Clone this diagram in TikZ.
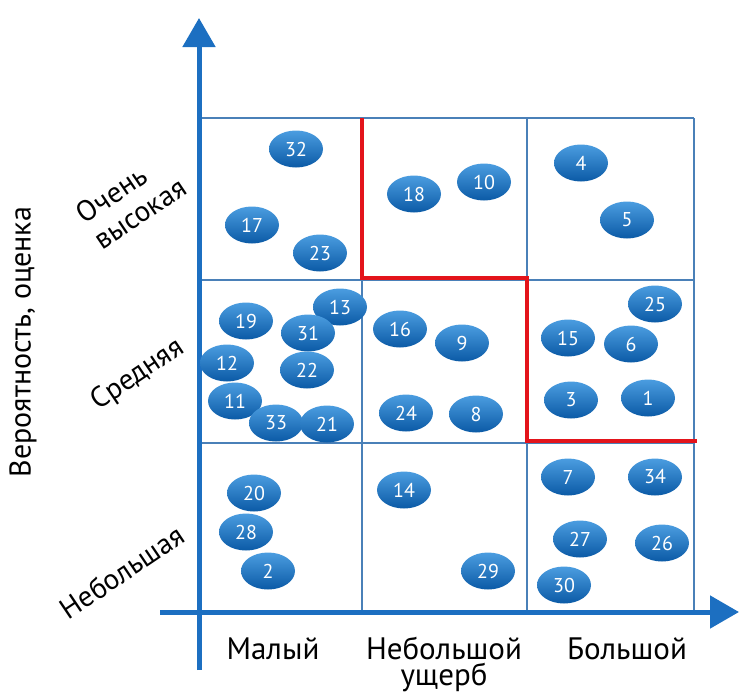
\documentclass[tikz,border=0pt]{standalone}
\usepackage{fontspec}
\setmainfont{PT Sans}
\usetikzlibrary{shapes.geometric,arrows.meta}
\definecolor{axisblue}{HTML}{1C6FC1}
\definecolor{gridblue}{HTML}{4A80B8}
\definecolor{riskred}{HTML}{E3141B}
\definecolor{elltop}{HTML}{4B9DE0}
\definecolor{ellbot}{HTML}{0B5AA6}
\begin{document}
\begin{tikzpicture}[x=1pt,y=-1pt,
  risk/.style={ellipse, minimum width=54pt, minimum height=37pt, inner sep=0pt,
    top color=elltop, bottom color=ellbot, text=white, font=\fontsize{20}{20}\selectfont},
  axisline/.style={draw=axisblue, line width=5pt},
  gridline/.style={draw=gridblue, line width=1.6pt},
  redline/.style={draw=riskred, line width=4.5pt},
  lbl/.style={font=\fontsize{31}{32}\selectfont, text=black, inner sep=0pt},
  rlbl/.style={font=\fontsize{29}{32}\selectfont, text=black, inner sep=0pt, align=left, rotate=34}]
\useasboundingbox (0,0) rectangle (739,697);
% grid
\draw[gridline] (199,118) -- (694,118);
\draw[gridline] (199,280) -- (694,280);
\draw[gridline] (199,443) -- (694,443);
\draw[gridline] (362,118) -- (362,612);
\draw[gridline] (527,118) -- (527,612);
\draw[gridline] (694,118) -- (694,612);
% red boundary
\draw[redline] (362,118) -- (362,278) -- (527,278) -- (527,441) -- (697,441);
% axes
\coordinate (yb) at (199,670);
\coordinate (yt) at (199,18);
\coordinate (xl) at (160,612);
\coordinate (xr) at (739,612);
\draw[axisline, -{Triangle[width=32pt,length=29pt]}] (yb) -- (yt);
\draw[axisline, -{Triangle[width=32pt,length=29pt]}] (xl) -- (xr);
% risks
\node[risk] (r32) at (296,149) {32};
\node[risk] (r17) at (252,225) {17};
\node[risk] (r23) at (320,253) {23};
\node[risk] (r18) at (414,194) {18};
\node[risk] (r10) at (484,182) {10};
\node[risk] (r4) at (581,163) {4};
\node[risk] (r5) at (627,220) {5};
\node[risk] (r13) at (340,307) {13};
\node[risk] (r19) at (246,321) {19};
\node[risk] (r31) at (308,333) {31};
\node[risk] (r12) at (227,363) {12};
\node[risk] (r22) at (307,370) {22};
\node[risk] (r11) at (235,401) {11};
\node[risk] (r33) at (276,423) {33};
\node[risk] (r21) at (327,424) {21};
\node[risk] (r16) at (400,329) {16};
\node[risk] (r9) at (462,343) {9};
\node[risk] (r24) at (406,413) {24};
\node[risk] (r8) at (476,414) {8};
\node[risk] (r25) at (655,304) {25};
\node[risk] (r15) at (568,338) {15};
\node[risk] (r6) at (631,344) {6};
\node[risk] (r3) at (571,400) {3};
\node[risk] (r1) at (648,398) {1};
\node[risk] (r20) at (254,493) {20};
\node[risk] (r28) at (246,532) {28};
\node[risk] (r2) at (268,571) {2};
\node[risk] (r14) at (404,490) {14};
\node[risk] (r29) at (488,571) {29};
\node[risk] (r7) at (568,477) {7};
\node[risk] (r34) at (655,477) {34};
\node[risk] (r27) at (580,539) {27};
\node[risk] (r26) at (662,543) {26};
\node[risk] (r30) at (564,585) {30};
% labels
\node[lbl, anchor=base] (lx1) at (273,659) {Малый};
\node[lbl, anchor=base] (lx2) at (444,659) {Небольшой};
\node[lbl, anchor=base] (lx2b) at (444,685) {ущерб};
\node[lbl, anchor=base] (lx3) at (627,659) {Большой};
\node[font=\fontsize{30}{32}\selectfont, inner sep=0pt, rotate=90] (ly) at (23,342) {Вероятность, оценка};
\node[rlbl] (ly3) at (131,200) {Очень\\высокая};
\node[rlbl] (ly2) at (138,375) {Средняя};
\node[rlbl] (ly1) at (122,572) {Небольшая};
\end{tikzpicture}
\end{document}
